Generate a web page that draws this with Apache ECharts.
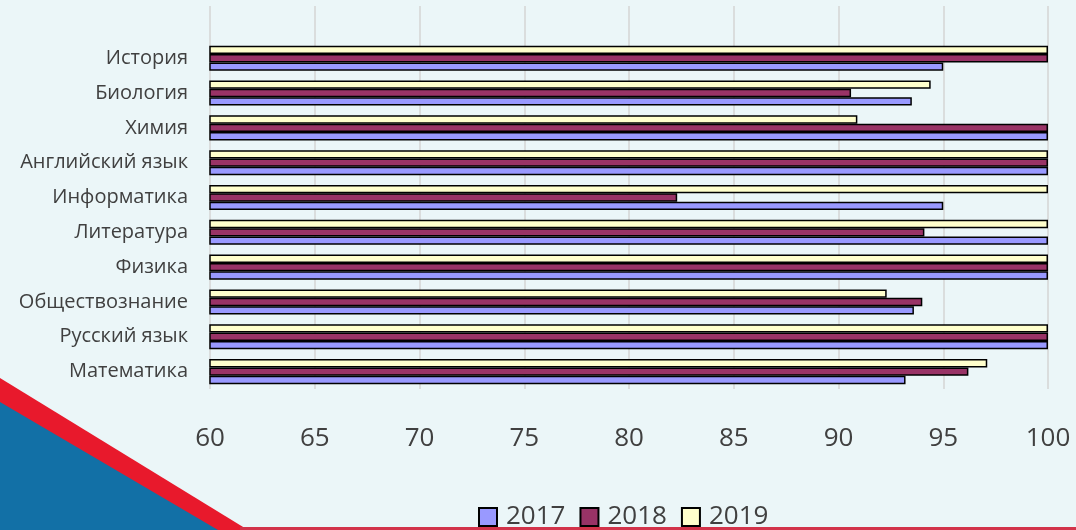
<!DOCTYPE html>
<html><head><meta charset="utf-8">
<script src="https://cdn.jsdelivr.net/npm/echarts@6/dist/echarts.min.js"></script>
<style>html,body{margin:0;padding:0;background:#ebf6f8;}#c{width:1076px;height:530px;}</style>
</head><body><div id="c"></div>
<script>
const categories = ['Математика','Русский язык','Обществознание','Физика','Литература','Информатика','Английский язык','Химия','Биология','История'];
const years = ['2017','2018','2019'];
const v2017 = [93.2, 100, 93.6, 100, 100, 95, 100, 100, 93.5, 95];
const v2018 = [96.2, 100, 94.0, 100, 94.1, 82.3, 100, 100, 90.6, 100];
const v2019 = [97.1, 100, 92.3, 100, 100, 100, 100, 90.9, 94.4, 100];
const xTicks = [60, 65, 70, 75, 80, 85, 90, 95, 100];
const colors = ['#9999ff', '#993366', '#ffffcc'];

const chart = echarts.init(document.getElementById('c'));
const yData = categories.concat(['']);
const seriesVals = [v2017, v2018, v2019];
// ECharts puts the first series on top in a horizontal bar chart, so add them in reverse
const order = [2, 1, 0];
chart.setOption({
  backgroundColor: '#ebf6f8',
  animation: false,
  textStyle: {fontFamily: 'Open Sans'},
  graphic: [
    {type: 'polygon', z: 0, shape: {points: [[0,378],[248,530],[0,530]]}, style: {fill: '#e8192c'}},
    {type: 'polygon', z: 1, shape: {points: [[0,402],[218,530],[0,530]]}, style: {fill: '#1270a6'}},
    {type: 'rect', z: 0, shape: {x: 240, y: 527, width: 836, height: 3}, style: {fill: '#d2334a'}}
  ],
  grid: {left: 210, right: 28, top: 6, bottom: 141, containLabel: false},
  legend: {
    top: 499, left: 473, itemGap: 14, itemWidth: 18, itemHeight: 18,
    icon: 'rect',
    data: years.map((y, i) => ({name: y, itemStyle: {color: colors[i], borderColor: '#000', borderWidth: 2}})),
    textStyle: {fontSize: 26, color: '#404040', padding: [0,0,0,4]}
  },
  xAxis: {
    type: 'value', min: xTicks[0], max: xTicks[xTicks.length-1], interval: 5,
    axisLine: {show: false}, axisTick: {show: false},
    axisLabel: {fontSize: 26, color: '#404040', margin: 37},
    splitLine: {lineStyle: {color: '#d4d4d4', width: 1.5}}
  },
  yAxis: {
    type: 'category', data: yData,
    axisLine: {show: false}, axisTick: {show: false},
    axisLabel: {fontSize: 20, color: '#404040', margin: 22}
  },
  series: order.map(i => ({
    name: years[i], type: 'bar', data: seriesVals[i].concat([null]),
    barGap: '0%', barCategoryGap: '28%',
    itemStyle: {color: colors[i], borderColor: '#000', borderWidth: 1.5}
  }))
});
</script></body></html>
